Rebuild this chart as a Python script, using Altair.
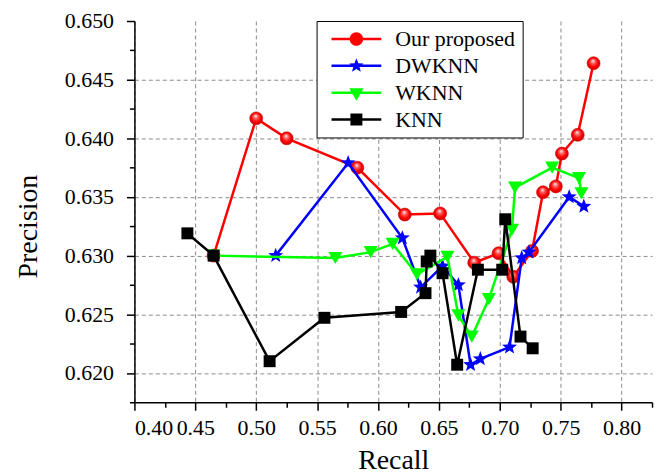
import math
import altair as alt
import pandas as pd

series = ["Our proposed", "DWKNN", "WKNN", "KNN"]
colors = ["#FF0000", "#0000FF", "#00FF00", "#000000"]

prop_recall = [0.465, 0.500, 0.525, 0.583, 0.622, 0.651, 0.679, 0.699, 0.711, 0.7265, 0.7355, 0.746, 0.751, 0.764, 0.777]
prop_precision = [0.6300, 0.6417, 0.6400, 0.6375, 0.6335, 0.6336, 0.6294, 0.6302, 0.6282, 0.6304, 0.6354, 0.6359, 0.6387, 0.6403, 0.6464]

dwknn_recall = [0.516, 0.5755, 0.620, 0.635, 0.653, 0.666, 0.676, 0.684, 0.708, 0.718, 0.724, 0.757, 0.769]
dwknn_precision = [0.6300, 0.6379, 0.6315, 0.6273, 0.6291, 0.6275, 0.6207, 0.6212, 0.6222, 0.6298, 0.6303, 0.6350, 0.6342]

wknn_recall = [0.465, 0.565, 0.594, 0.612, 0.632, 0.657, 0.666, 0.677, 0.691, 0.710, 0.7125, 0.743, 0.765, 0.767]
wknn_precision = [0.6300, 0.6298, 0.6303, 0.6310, 0.6284, 0.6299, 0.6249, 0.6231, 0.6263, 0.6322, 0.6358, 0.6375, 0.6366, 0.6353]

knn_recall = [0.4435, 0.465, 0.511, 0.556, 0.619, 0.639, 0.640, 0.643, 0.653, 0.665, 0.682, 0.702, 0.7045, 0.717, 0.727]
knn_precision = [0.6319, 0.6300, 0.6210, 0.6247, 0.6252, 0.6268, 0.6295, 0.6300, 0.6285, 0.6207, 0.6288, 0.6288, 0.6331, 0.6231, 0.6221]

x_major = [0.40, 0.45, 0.50, 0.55, 0.60, 0.65, 0.70, 0.75, 0.80]
x_minor = [0.425, 0.475, 0.525, 0.575, 0.625, 0.675, 0.725, 0.775, 0.825]
y_major = [0.620, 0.625, 0.630, 0.635, 0.640, 0.645, 0.650]
y_minor = [0.6175, 0.6225, 0.6275, 0.6325, 0.6375, 0.6425, 0.6475]

FONT = "Liberation Serif"


def frame(rec, prec, name):
    return pd.DataFrame({"r": rec, "p": prec, "i": list(range(len(rec))), "series": name})


dfs = [
    frame(prop_recall, prop_precision, series[0]),
    frame(dwknn_recall, dwknn_precision, series[1]),
    frame(wknn_recall, wknn_precision, series[2]),
    frame(knn_recall, knn_precision, series[3]),
]

xs = alt.Scale(domain=[0.40, 0.825], nice=False, zero=False)
ys = alt.Scale(domain=[0.6175, 0.650], nice=False, zero=False)

common_axis = dict(
    domainColor="black", domainWidth=1.5, tickColor="black", tickWidth=1.5,
    labelFont=FONT, labelFontSize=22, labelColor="black",
    titleFont=FONT, titleFontSize=28, titleFontWeight="normal", titleColor="black",
)

ax_x = alt.Axis(values=x_major, format=".2f", orient="bottom", title="Recall",
                grid=True, gridDash=[4, 3], gridColor="#8a8a8a", gridWidth=1,
                tickSize=8, labelPadding=7, titleY=67, titleBaseline="alphabetic",
                **common_axis)
ax_y = alt.Axis(values=y_major, format=".3f", orient="left", title="Precision",
                grid=True, gridDash=[4, 3], gridColor="#8a8a8a", gridWidth=1,
                gridOpacity={"condition": {"test": "datum.value < 0.6499", "value": 1}, "value": 0},
                tickSize=8, labelPadding=13, titleX=-98, titleY=206, titleAngle=270,
                titleBaseline="alphabetic", titleAlign="center",
                **common_axis)
ax_x_minor = alt.Axis(values=x_minor, orient="bottom", title=None, labels=False, grid=False,
                      domain=False, tickSize=5, tickWidth=1.5, tickColor="black")
ax_y_minor = alt.Axis(values=y_minor, orient="left", title=None, labels=False, grid=False,
                      domain=False, tickSize=5, tickWidth=1.5, tickColor="black")


def enc(xaxis=None, yaxis=None):
    return dict(
        x=alt.X("r:Q", scale=xs, axis=xaxis),
        y=alt.Y("p:Q", scale=ys, axis=yaxis),
        order=alt.Order("i:Q"),
    )


def star_path(R, r, cx=0.0):
    pts = []
    for k in range(10):
        ang = -math.pi / 2 + k * math.pi / 5
        rad = R if k % 2 == 0 else r
        pts.append(f"{cx + rad * math.cos(ang):.3f},{rad * math.sin(ang):.3f}")
    return "M" + "L".join(pts) + "Z"


red_grad = alt.RadialGradient(
    gradient="radial",
    stops=[
        alt.GradientStop(color="#ffffff", offset=0),
        alt.GradientStop(color="#ff6060", offset=0.3),
        alt.GradientStop(color="#ff0000", offset=0.65),
        alt.GradientStop(color="#c00000", offset=1),
    ],
    x1=0.45, y1=0.3, r1=0, x2=0.5, y2=0.5, r2=0.55,
)

layers = []
layers.append(alt.Chart(dfs[0]).mark_line(color=colors[0], strokeWidth=2.5).encode(**enc(ax_x, ax_y)))
layers.append(alt.Chart(dfs[0]).mark_point(opacity=0).encode(**enc(ax_x_minor, ax_y_minor)))
layers.append(alt.Chart(dfs[0]).mark_point(shape="circle", filled=True, fill=red_grad, stroke="#d00000",
                                           strokeWidth=0.6, size=170, opacity=1).encode(**enc()))
layers.append(alt.Chart(dfs[1]).mark_line(color=colors[1], strokeWidth=2.5).encode(**enc()))
layers.append(alt.Chart(dfs[1]).mark_point(shape=star_path(1.0, 0.42), filled=True, color=colors[1], size=250,
                                           opacity=1).encode(**enc()))
layers.append(alt.Chart(dfs[2]).mark_line(color=colors[2], strokeWidth=2.5).encode(**enc()))
layers.append(alt.Chart(dfs[2]).mark_point(shape="triangle-down", filled=True, color=colors[2], size=200,
                                           opacity=1).encode(**enc()))
layers.append(alt.Chart(dfs[3]).mark_line(color=colors[3], strokeWidth=2.5).encode(**enc()))
layers.append(alt.Chart(dfs[3]).mark_point(shape="square", filled=True, color=colors[3], size=144,
                                           opacity=1).encode(**enc()))

# legend symbols: a line segment with the marker on it (unit = 10px)
line_path = "M-1,-0.12L4,-0.12L4,0.12L-1,0.12Z"
cx = 1.5


def circle_path(r):
    return f"M{cx + r:.3f},0A{r},{r} 0 1 1 {cx - r:.3f},0A{r},{r} 0 1 1 {cx + r:.3f},0Z"


legend_shapes = [
    line_path + circle_path(0.68),
    line_path + star_path(0.75, 0.32, cx),
    line_path + "M0.78,-0.45L2.22,-0.45L1.5,0.8Z",
    line_path + "M0.9,-0.6L2.1,-0.6L2.1,0.6L0.9,0.6Z",
]

legend_df = pd.DataFrame({
    "series": series,
    "r": [d["r"].iloc[0] for d in dfs],
    "p": [d["p"].iloc[0] for d in dfs],
})

leg = alt.Legend(
    title=None, orient="none", legendX=183, legendY=0,
    padding=7, strokeColor="black", fillColor="white", cornerRadius=0,
    labelFont=FONT, labelFontSize=22, labelColor="black", labelLimit=400,
    symbolSize=400, symbolOffset=7, labelOffset=43, rowPadding=5,
    symbolStrokeWidth=0, symbolOpacity=1,
)

layers.append(
    alt.Chart(legend_df).mark_point(filled=True, opacity=0).encode(
        x=alt.X("r:Q", scale=xs, axis=None),
        y=alt.Y("p:Q", scale=ys, axis=None),
        color=alt.Color("series:N", scale=alt.Scale(domain=series, range=colors), legend=leg),
        shape=alt.Shape("series:N", scale=alt.Scale(domain=series, range=legend_shapes), legend=leg),
    )
)

chart = (
    alt.layer(*layers)
    .resolve_axis(x="independent", y="independent")
    .properties(
        width=520, height=383,
        autosize=alt.AutoSizeParams(type="none"),
        padding={"left": 127, "top": 12, "right": 8, "bottom": 72},
        background="white",
    )
    .configure_view(stroke=None)
)

chart.save("out.html", embed_options={"renderer": "svg", "actions": False})
